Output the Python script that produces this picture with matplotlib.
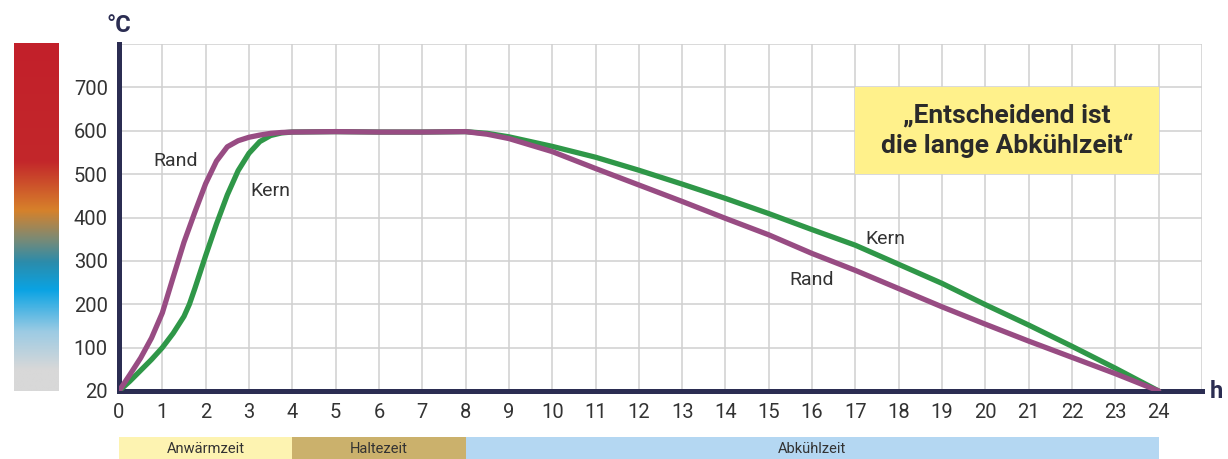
import matplotlib.pyplot as plt
import matplotlib.patches as mpatches
from matplotlib.colors import LinearSegmentedColormap
import numpy as np

# hours and temperatures (deg C)
hours_rand = [0, 0.25, 0.5, 0.75, 1, 1.25, 1.5, 1.75, 2, 2.25, 2.5, 2.75, 3, 3.25, 3.5, 3.75, 4,
              5, 6, 7, 8, 8.5, 9, 10, 11, 12, 13, 14, 15, 16, 17, 18, 19, 20, 21, 22, 23, 24]
temp_rand = [20, 50, 81, 122, 180, 262, 343, 412, 478, 530, 563, 577, 585, 590, 594, 596, 597,
             598, 597, 597, 598, 592, 582, 552, 513, 475, 437, 398, 360, 317, 278, 236, 194, 154, 115, 82, 52, 20]

hours_kern = [0, 0.25, 0.5, 0.75, 1, 1.25, 1.5, 1.625, 1.75, 2, 2.25, 2.5, 2.75, 3, 3.25, 3.5, 3.75, 4,
              5, 6, 7, 8, 8.5, 9, 10, 11, 12, 13, 14, 15, 16, 17, 18, 19, 20, 21, 22, 23, 24]
temp_kern = [20, 38, 58, 78, 100, 133, 172, 200, 236, 312, 385, 452, 508, 548, 575, 589, 595, 597,
             598, 597, 597, 598, 594, 586, 564, 539, 509, 477, 444, 409, 372, 336, 292, 248, 199, 152, 103, 62, 20]

y_ticks = [20, 100, 200, 300, 400, 500, 600, 700]
x_ticks = list(range(0, 25))

phases = ['Anwärmzeit', 'Haltezeit', 'Abkühlzeit']
phase_start = [0, 4, 8]
phase_end = [4, 8, 24]
phase_colors = ['#fdf3b1', '#cbb16c', '#b4d7f2']

navy = '#2b2d52'
txt = '#333333'
purple = '#984c83'
green = '#2f9748'

plt.rcParams['font.family'] = ['Roboto', 'DejaVu Sans']


def ypos(t):
    # the bottom grid line is labelled 20, above 100 the scale is linear
    return np.interp(t, [20, 100, 800], [0, 100, 800])


W, H = 1228, 459
fig = plt.figure(figsize=(W / 100, H / 100), dpi=100)

ax = fig.add_axes([119 / W, (H - 391) / H, (1202 - 119) / W, (391 - 44) / H])
ax.set_xlim(0, 25)
ax.set_ylim(0, 800)
ax.set_xticks(x_ticks)
ax.set_yticks(ypos(y_ticks))
ax.set_yticklabels([str(v) for v in y_ticks])
ax.set_xticks([24.999], minor=True)
ax.set_yticks([799.9], minor=True)
ax.grid(which='both', color='#d0d0d0', linewidth=1.1)
ax.set_axisbelow(True)
ax.tick_params(which='both', length=0, labelsize=14.5, labelcolor=txt)
ax.tick_params(axis='x', pad=9)
ax.tick_params(axis='y', pad=8)
for s in ['top', 'right']:
    ax.spines[s].set_visible(False)
for s in ['left', 'bottom']:
    ax.spines[s].set_color(navy)
    ax.spines[s].set_linewidth(3.6)

ax.plot(hours_kern, ypos(temp_kern), color=green, lw=3.8, solid_capstyle='round', zorder=3)
ax.plot(hours_rand, ypos(temp_rand), color=purple, lw=3.8, solid_capstyle='round', zorder=4)

ax.text(1.3, 530, 'Rand', fontsize=14, color=txt, ha='center', va='center')
ax.text(3.5, 460, 'Kern', fontsize=14, color=txt, ha='center', va='center')
ax.text(17.7, 350, 'Kern', fontsize=14, color=txt, ha='center', va='center')
ax.text(16.0, 255, 'Rand', fontsize=14, color=txt, ha='center', va='center')

ax.add_patch(mpatches.Rectangle((17, 500), 7, 200, facecolor='#fff18b', edgecolor='none', zorder=2))
ax.text(20.5, 600, '\u201eEntscheidend ist\ndie lange Abkühlzeit\u201c', fontsize=19, fontweight='bold',
        color='#2a2a2a', ha='center', va='center', linespacing=1.25, zorder=5)

fig.text(119 / W, 1 - 25 / H, '°C', fontsize=17, fontweight='bold', color=navy, ha='center', va='center')
fig.text(1216 / W, 1 - 392 / H, 'h', fontsize=17, fontweight='bold', color=navy, ha='center', va='center')

# colour scale on the left
cax = fig.add_axes([14 / W, (H - 391) / H, 45 / W, (391 - 43) / H])
cmap = LinearSegmentedColormap.from_list('temp', [
    (0.0, '#d8d8d8'), (0.06, '#d8d8d8'), (0.17, '#9ccbe4'), (0.29, '#0aa3e3'),
    (0.37, '#2b8cab'), (0.44, '#7f8a72'), (0.52, '#d7812a'), (0.66, '#c3272b'), (1.0, '#c2202a')])
cax.imshow(np.linspace(1, 0, 256).reshape(-1, 1), cmap=cmap, aspect='auto', extent=[0, 1, 0, 1])
cax.axis('off')

# phase bar at the bottom
pax = fig.add_axes([119 / W, 0, (1202 - 119) / W, 22 / H])
pax.set_xlim(0, 25)
pax.set_ylim(0, 1)
for name, a, b, c in zip(phases, phase_start, phase_end, phase_colors):
    pax.barh(0.5, b - a, left=a, height=1, color=c)
    pax.text((a + b) / 2, 0.45, name, fontsize=10.5, color=txt, ha='center', va='center')
pax.axis('off')

fig.savefig('out.png', dpi=100)
